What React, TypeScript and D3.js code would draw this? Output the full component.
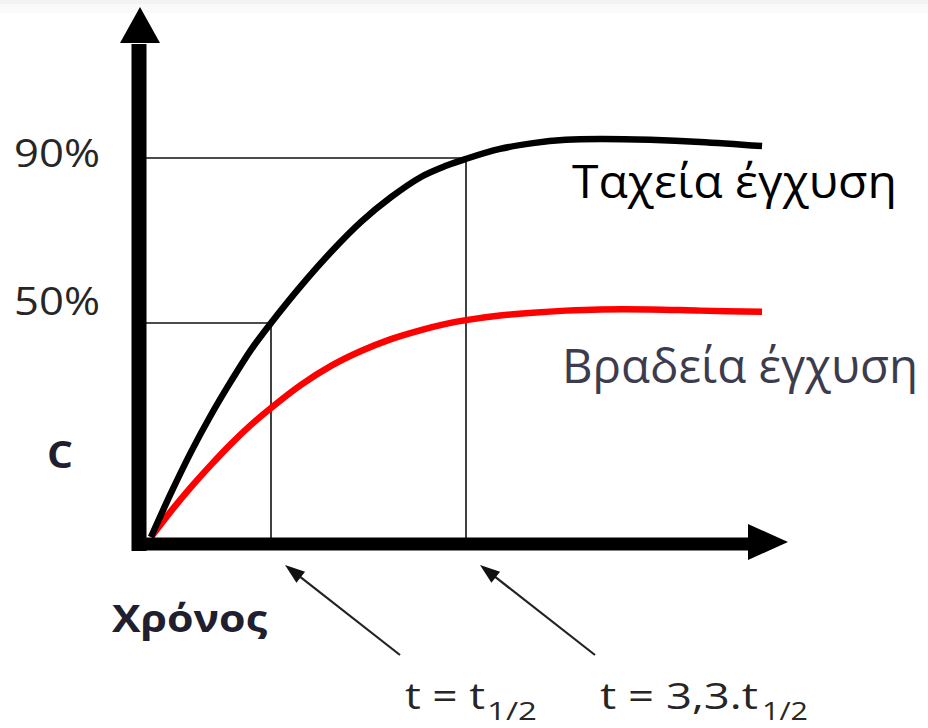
import React from "react";
import * as d3 from "d3";

// time in units of t1/2 (schematic axis)
const time = [0, 0.167, 0.333, 0.5, 0.667, 0.833, 1.0, 1.25, 1.5, 1.75, 2.0, 2.25, 2.458, 2.625, 2.908, 3.183, 3.458, 3.742, 4.158, 4.575, 5.092];
// concentration C (% of steady state) – fast infusion
const fastC = [-1.9, 8.8, 18.7, 27.7, 35.9, 43.5, 50, 59.0, 67.2, 74.5, 80.5, 85.4, 88.1, 89.8, 92.2, 93.6, 94.4, 94.6, 94.4, 93.9, 92.9];
// slow infusion
const slowC = [-1.9, 4.4, 10.2, 15.6, 20.7, 25.3, 29.4, 35.0, 39.6, 43.2, 46.1, 48.3, 49.8, 50.7, 51.8, 52.5, 53.0, 53.3, 53.3, 53.0, 52.7];

const levelLabels = ["50%", "90%"];
const levelValues = [50, 90];
const markerTimes = [1, 2.625];
const markerMain = ["t = t", "t = 3,3.t"];
const markerSub = ["1/2", "1/2"];
const seriesNames = ["Ταχεία έγχυση", "Βραδεία έγχυση"];
const yTitle = "C";
const xTitle = "Χρόνος";

const W = 928;
const H = 728;
const FONT = "'Open Sans', 'Noto Sans', sans-serif";

export default function App() {
  const x = d3.scaleLinear().domain([0, 1]).range([151, 271]);
  const y = d3.scaleLinear().domain([50, 90]).range([323, 158]);

  const line = d3
    .line<number>()
    .x((_, i) => x(time[i]))
    .y((d) => y(d))
    .curve(d3.curveCatmullRom.alpha(0.5));

  const axisX = 139; // y-axis shaft centre
  const axisY = 544; // x-axis shaft centre
  const xEnd = 788;
  const yTop = 7;

  const levelLabelPos = [
    { x: 14, y: 315, w: 86 },
    { x: 14, y: 167, w: 86 },
  ];
  const markerLayout = [
    { tx: 405, mainW: 80, subX: 487, subW: 50, tailX: 400, tailY: 655, tipX: 285, tipY: 565 },
    { tx: 600, mainW: 158, subX: 762, subW: 46, tailX: 595, tailY: 655, tipX: 480, tipY: 565 },
  ];

  const arrowHead = (x1: number, y1: number, x2: number, y2: number, len: number, half: number) => {
    const ang = Math.atan2(y2 - y1, x2 - x1);
    const bx = x2 - len * Math.cos(ang);
    const by = y2 - len * Math.sin(ang);
    const px = -Math.sin(ang) * half;
    const py = Math.cos(ang) * half;
    return `${x2},${y2} ${bx + px},${by + py} ${bx - px},${by - py}`;
  };

  return (
    <svg
      width={W}
      height={H}
      viewBox={`0 0 ${W} ${H}`}
      style={{ position: "absolute", left: 0, top: 0, background: "#fff" }}
    >
      <rect x={0} y={0} width={W} height={H} fill="#fff" />
      <rect x={0} y={0} width={W} height={4} fill="#f3f3f3" />
      <rect x={0} y={4} width={W} height={9} fill="#fafafa" />

      {/* guide lines */}
      {levelValues.map((v, i) => {
        const t = markerTimes[i];
        return (
          <g key={"g" + i} stroke="#111" strokeWidth={1.6}>
            <line x1={axisX + 7} x2={x(t)} y1={y(v)} y2={y(v)} />
            <line x1={x(t)} x2={x(t)} y1={y(v)} y2={axisY - 6} />
          </g>
        );
      })}

      {/* curves */}
      <path d={line(slowC) || ""} fill="none" stroke="#ff0000" strokeWidth={6.5} />
      <path d={line(fastC) || ""} fill="none" stroke="#000" strokeWidth={6.5} />

      {/* axes */}
      <line x1={axisX} x2={axisX} y1={axisY + 7} y2={44} stroke="#000" strokeWidth={15} />
      <polygon points={`${axisX + 1},${yTop} ${axisX - 19},43 ${axisX + 21},43`} fill="#000" />
      <line x1={axisX - 7} x2={749} y1={axisY} y2={axisY} stroke="#000" strokeWidth={13} />
      <polygon points={`${xEnd},542 748,524 748,560`} fill="#000" />

      {/* level labels */}
      {levelLabels.map((l, i) => (
        <text
          key={"l" + i}
          x={levelLabelPos[i].x}
          y={levelLabelPos[i].y}
          fontFamily={FONT}
          fontSize={39}
          fill="#262626"
          textLength={levelLabelPos[i].w}
          lengthAdjust="spacingAndGlyphs"
        >
          {l}
        </text>
      ))}

      {/* axis titles */}
      <text x={47} y={468} fontFamily={FONT} fontSize={38} fontWeight="bold" fill="#1f1f2f" textLength={26} lengthAdjust="spacingAndGlyphs">
        {yTitle}
      </text>
      <text x={112} y={632} fontFamily={FONT} fontSize={37} fontWeight="bold" fill="#1f1f2f" textLength={155} lengthAdjust="spacingAndGlyphs">
        {xTitle}
      </text>

      {/* series labels */}
      <text x={572} y={198} fontFamily={FONT} fontSize={46} fill="#000" textLength={325} lengthAdjust="spacingAndGlyphs">
        {seriesNames[0]}
      </text>
      <text x={562} y={383} fontFamily={FONT} fontSize={48} fill="#3c3c4e" textLength={356} lengthAdjust="spacingAndGlyphs">
        {seriesNames[1]}
      </text>

      {/* marker annotations */}
      {markerLayout.map((m, i) => (
        <g key={"m" + i}>
          <line x1={m.tailX} y1={m.tailY} x2={(m.tipX + m.tailX * 0.12) / 1.12} y2={(m.tipY + m.tailY * 0.12) / 1.12} stroke="#222" strokeWidth={2.2} />
          <polygon points={arrowHead(m.tailX, m.tailY, m.tipX, m.tipY, 20, 7)} fill="#111" />
          <text x={m.tx} y={709} fontFamily={FONT} fontSize={37} fill="#262626" textLength={m.mainW} lengthAdjust="spacingAndGlyphs">
            {markerMain[i]}
          </text>
          <text x={m.subX} y={720} fontFamily={FONT} fontSize={26} fill="#262626" textLength={m.subW} lengthAdjust="spacingAndGlyphs">
            {markerSub[i]}
          </text>
        </g>
      ))}
    </svg>
  );
}
